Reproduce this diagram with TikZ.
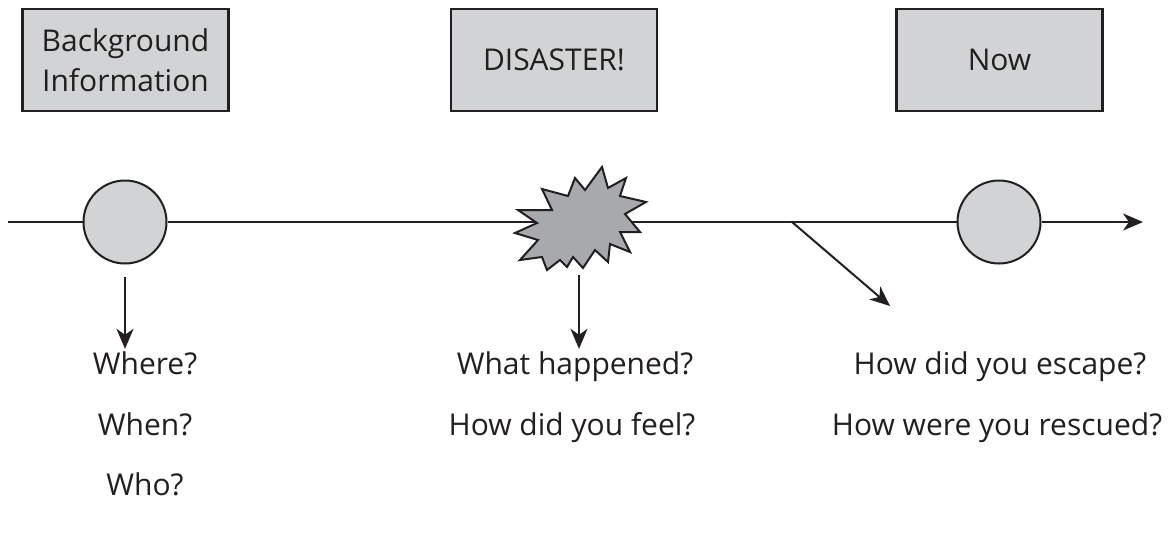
\documentclass[tikz,border=0pt]{standalone}
\usepackage{fontspec}
\setmainfont{Open Sans}
\usetikzlibrary{arrows.meta}
\definecolor{boxgray}{HTML}{D1D3D4}
\definecolor{burstgray}{HTML}{A7A9AC}
\definecolor{inkblack}{HTML}{231F20}

\begin{document}
\begin{tikzpicture}[x=0.5pt,y=-0.5pt,
  every node/.style={font=\fontsize{15}{20}\selectfont,text=inkblack},
  labelbox/.style={draw=inkblack,line width=1.2pt,fill=boxgray,minimum width=103pt,minimum height=51pt,align=center},
  event/.style={circle,draw=inkblack,line width=1pt,fill=boxgray,minimum size=41.5pt,inner sep=0pt},
  question/.style={inner sep=0pt,anchor=base},
  arr/.style={-{Stealth[length=10pt,width=8.5pt,inset=3pt]},line width=1pt,draw=inkblack}]
\useasboundingbox (0,0) rectangle (1176,547);

% boxes along the top
\node[labelbox] (background) at (125.5,60) {Background\\Information};
\node[labelbox] (disaster) at (554,60) {DISASTER!};
\node[labelbox] (nowbox) at (999.5,60) {Now};

% the time line
\coordinate (linestart) at (8,222);
\coordinate (lineend) at (1143,222);
\node[event] (past) at (125,222) {};
\node[event] (now) at (999,222) {};
\draw[line width=1pt,inkblack] (linestart) -- (past);
\draw[line width=1pt,inkblack] (past) -- (now);
\draw[arr] (now) -- (lineend);

% the disaster
\draw[line width=1pt,draw=inkblack,fill=burstgray,line join=miter]
  (602,167) -- (608,188) -- (626,178) -- (620,196) -- (646,202) -- (625,214)
  -- (640,232) -- (620,232) -- (630,252) -- (610,244) -- (608,262) -- (595,250)
  -- (583,268) -- (573,257) -- (567,267) -- (560,260) -- (547,270) -- (542,257)
  -- (520,260) -- (538,240) -- (515,233) -- (537,223) -- (518,210) -- (552,210)
  -- (542,189) -- (568,196) -- (575,178) -- (585,190) -- cycle;
\coordinate (burstfoot) at (579,275);

% questions
\node[question] (where) at (145,374) {Where?};
\node[question] (when) at (145,435) {When?};
\node[question] (who) at (145,495) {Who?};
\node[question] (happened) at (575,374) {What happened?};
\node[question] (feel) at (572,435) {How did you feel?};
\node[question] (escape) at (1000,374) {How did you escape?};
\node[question] (rescued) at (997,435) {How were you rescued?};

% pointers
\coordinate (fork) at (792,222);
\coordinate (escapetip) at (890,306);
\draw[arr,shorten <=6pt,shorten >=1pt] (past) -- (past |- where.north);
\draw[arr,shorten >=1pt] (burstfoot) -- (burstfoot |- happened.north);
\draw[arr] (fork) -- (escapetip);
\end{tikzpicture}
\end{document}
